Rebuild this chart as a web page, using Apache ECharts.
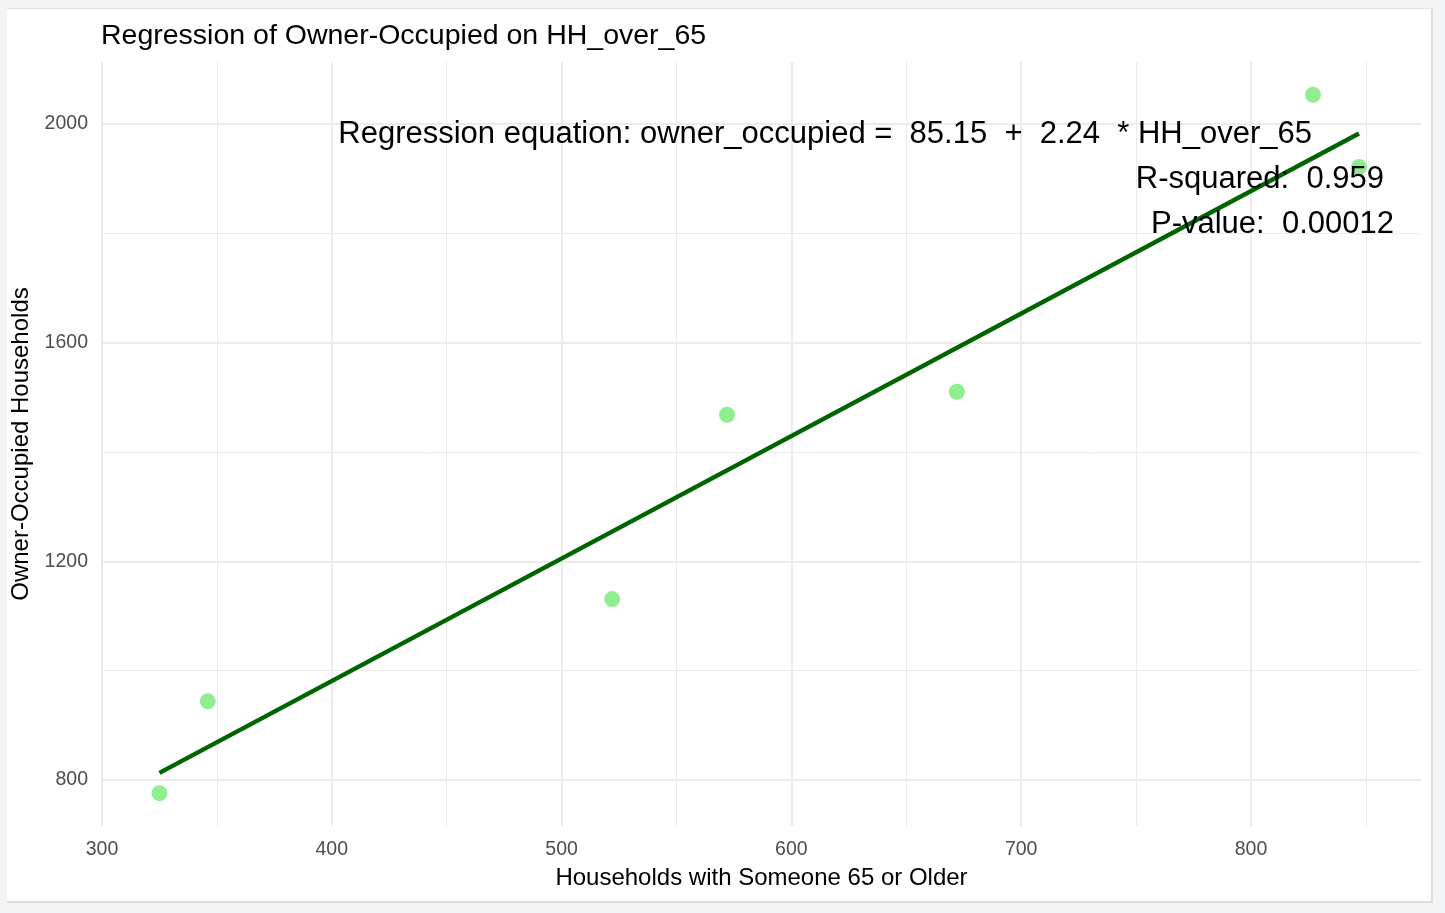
<!DOCTYPE html>
<html>
<head>
<meta charset="utf-8">
<script src="https://cdn.jsdelivr.net/npm/echarts@6/dist/echarts.min.js"></script>
<style>
  html, body { margin: 0; padding: 0; width: 1445px; height: 913px; background: #f3f4f6; overflow: hidden; }
  #panel { position: absolute; left: 7px; top: 8px; width: 1424px; height: 892px; background: #ffffff;
           border-top: 1px solid #e3e3e3; border-right: 2px solid #dcdcdc; border-bottom: 2px solid #dcdcdc; }
  #chart { position: absolute; left: 0; top: 0; width: 1445px; height: 913px; }
</style>
</head>
<body>
<div id="panel"></div>
<div id="chart"></div>
<script>
// Observations: households with someone 65+ vs owner-occupied households
const hhOver65      = [325, 346, 522, 572, 672, 827, 847];
const ownerOccupied = [776, 944, 1131, 1468, 1510, 2053, 1921];

// Fitted model reported in the annotation
const intercept = 85.15;
const slope = 2.24;
const rSquared = '0.959';
const pValue = '0.00012';

// Axis breaks
const xMajorTicks = [300, 400, 500, 600, 700, 800];
const xMinorTicks = [350, 450, 550, 650, 750, 850];
const yMajorTicks = [800, 1200, 1600, 2000];
const yMinorTicks = [1000, 1400, 1800];

const xRange = [300, 874];
const yRange = [716, 2113];

const points = hhOver65.map((x, i) => [x, ownerOccupied[i]]);
const xLo = Math.min(...hhOver65), xHi = Math.max(...hhOver65);
const fitLine = [[xLo, intercept + slope * xLo], [xHi, intercept + slope * xHi]];

const font = '"Liberation Sans", Arial, sans-serif';
const grid = { left: 102, right: 24, top: 62, bottom: 87, outerBoundsMode: 'none', containLabel: false };

const chart = echarts.init(document.getElementById('chart'), null, { renderer: 'canvas' });

function majorAxis(extra) {
  return Object.assign({
    type: 'value',
    axisLine: { show: false },
    splitLine: { show: true, lineStyle: { color: '#ebebeb', width: 2 } }
  }, extra);
}
function minorAxis(ticks, extra) {
  return Object.assign({
    type: 'value',
    axisLine: { show: false },
    axisLabel: { show: false, customValues: ticks },
    axisTick: { show: false, customValues: ticks },
    splitLine: { show: true, lineStyle: { color: '#ebebeb', width: 1 } }
  }, extra);
}

chart.setOption({
  animation: false,
  backgroundColor: 'transparent',
  title: {
    text: 'Regression of Owner-Occupied on HH_over_65',
    left: 96, top: 17,
    textStyle: { fontFamily: font, fontSize: 28.5, fontWeight: 'normal', color: '#000000' }
  },
  grid: grid,
  xAxis: [
    majorAxis({
      min: xRange[0], max: xRange[1],
      name: 'Households with Someone 65 or Older',
      nameLocation: 'middle', nameGap: 40,
      nameTextStyle: { fontFamily: font, fontSize: 24, color: '#000000' },
      axisTick: { show: false, customValues: xMajorTicks },
      axisLabel: { customValues: xMajorTicks, formatter: v => String(v),
                   fontFamily: font, fontSize: 19.5, color: '#4d4d4d', margin: 14 }
    }),
    minorAxis(xMinorTicks, { min: xRange[0], max: xRange[1], position: 'bottom' })
  ],
  yAxis: [
    majorAxis({
      min: yRange[0], max: yRange[1],
      name: 'Owner-Occupied Households',
      nameLocation: 'middle', nameGap: 64,
      nameTextStyle: { fontFamily: font, fontSize: 24, color: '#000000' },
      axisTick: { show: false, customValues: yMajorTicks },
      axisLabel: { customValues: yMajorTicks, formatter: v => String(v),
                   fontFamily: font, fontSize: 19.5, color: '#4d4d4d', margin: 14 }
    }),
    minorAxis(yMinorTicks, { min: yRange[0], max: yRange[1], position: 'left' })
  ],
  series: [
    {
      type: 'line',
      data: fitLine,
      symbol: 'none',
      lineStyle: { color: '#006400', width: 4.5 },
      z: 3
    },
    {
      type: 'scatter',
      data: points,
      symbol: 'circle',
      symbolSize: 16,
      itemStyle: { color: '#90ee90', opacity: 1 },
      z: 2
    }
  ],
  graphic: [
    {
      type: 'text', right: 1445 - 1312, top: 119,
      style: {
        text: 'Regression equation: owner_occupied =  ' + intercept.toFixed(2) + '  +  ' + slope.toFixed(2) + '  * HH_over_65',
        font: '31px ' + font, fill: '#000000'
      }, z: 10
    },
    {
      type: 'text', right: 1445 - 1384, top: 164,
      style: { text: 'R-squared:  ' + rSquared, font: '31px ' + font, fill: '#000000' }, z: 10
    },
    {
      type: 'text', right: 1445 - 1394, top: 209,
      style: { text: 'P-value:  ' + pValue, font: '31px ' + font, fill: '#000000' }, z: 10
    }
  ]
});
</script>
</body>
</html>
